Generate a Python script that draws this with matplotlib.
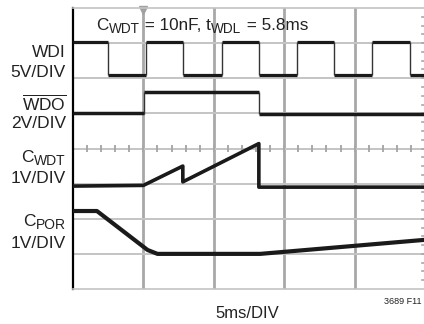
import matplotlib
matplotlib.use("Agg")
import matplotlib.pyplot as plt
import numpy as np
from matplotlib import font_manager
from matplotlib.transforms import IdentityTransform

names = {f.name for f in font_manager.fontManager.ttflist}
main_font = 'Liberation Sans Narrow' if 'Liberation Sans Narrow' in names else 'Liberation Sans'
plt.rcParams['font.family'] = [main_font, 'DejaVu Sans']
plt.rcParams['mathtext.fontset'] = 'custom'
plt.rcParams['mathtext.rm'] = main_font
plt.rcParams['mathtext.it'] = main_font

# ---- data (time in horizontal divisions, level in vertical divisions) ----
wdi_edges = [0.0, 0.50, 1.04, 1.56, 2.12, 2.64, 3.18, 3.71, 4.25, 4.79, 5.0]
wdi_levels = [7.04, 6.10, 7.04, 6.10, 7.04, 6.10, 7.04, 6.10, 7.04, 6.10]

wdo_edges = [0.0, 1.01, 2.64, 5.0]
wdo_levels = [5.00, 5.62, 4.99]

cwdt_t = [0.0, 1.0, 1.56, 1.56, 2.64, 2.64, 5.0]
cwdt_v = [2.93, 2.95, 3.50, 3.05, 4.14, 2.90, 2.90]

cpor_t = [0.0, 0.34, 1.06, 1.20, 2.66, 5.0]
cpor_v = [2.22, 2.22, 1.11, 1.00, 1.00, 1.40]

# row labels: list of (main, subscript) pieces
row_labels = [[("WDI", "")], [("5V/DIV", "")], [(r"$\overline{\mathrm{WDO}}$", "")], [("2V/DIV", "")],
              [("C", "WDT")], [("1V/DIV", "")], [("C", "POR")], [("1V/DIV", "")]]
row_baselines = [57, 77, 110, 128, 162, 183, 226, 248]
title_parts = [("C", "WDT"), (" = 10nF, t", "WDL"), (" = 5.8ms", "")]
xlabel = "5ms/DIV"
fig_id = "3689 F11"

fs = 12.5
W, H = 424, 324
fig = plt.figure(figsize=(W / 100, H / 100), dpi=100)
ax = fig.add_axes([73 / W, 1 - 289 / H, 352 / W, 281 / H])
ax.set_xlim(0, 5)
ax.set_ylim(0, 8)
ax.set_xticks([])
ax.set_yticks([])

ax.spines['right'].set_visible(False)
ax.spines['top'].set_color('#c4c4c4')
ax.spines['top'].set_linewidth(1.2)
ax.spines['bottom'].set_color('#c4c4c4')
ax.spines['bottom'].set_linewidth(1.2)
ax.spines['left'].set_color('black')
ax.spines['left'].set_linewidth(1.6)

for x in range(1, 5):
    ax.axvline(x, color='#a8a8a8', lw=2.0, zorder=1)
for y in range(1, 8):
    ax.axhline(y, color='#c4c4c4', lw=1.4, zorder=1)

for x in np.arange(0.2, 5.0, 0.2):
    ax.plot([x, x], [3.93, 4.07], color='#a8a8a8', lw=1.4, zorder=1)
for y in np.arange(0.25, 8.0, 0.25):
    ax.plot([4.955, 5.0], [y, y], color='#a8a8a8', lw=1.2, zorder=1, clip_on=False)

ax.plot([1.0], [7.93], marker='v', color='#a0a0a0', markersize=6, clip_on=False, zorder=2)

tc = '#1a1a1a'
ax.hlines(wdi_levels, wdi_edges[:-1], wdi_edges[1:], color=tc, lw=2.3, zorder=3)
ax.vlines(wdi_edges[1:-1], min(wdi_levels), max(wdi_levels), color='#333333', lw=1.0, zorder=3)
ax.hlines(wdo_levels, wdo_edges[:-1], wdo_edges[1:], color=tc, lw=2.5, zorder=3)
ax.vlines(wdo_edges[1:-1], min(wdo_levels), max(wdo_levels), color='#333333', lw=1.0, zorder=3)
ax.plot(cwdt_t, cwdt_v, color=tc, lw=2.6, zorder=3, solid_joinstyle='round')
ax.plot(cpor_t, cpor_v, color=tc, lw=3.0, zorder=3, solid_joinstyle='round')

renderer = fig.canvas.get_renderer()
tcol = '#222222'


def chain(x, base_top, parts, size):
    """Draw main+subscript pieces; base_top is baseline in px from top."""
    y = H - base_top
    arts = []
    for main, sub in parts:
        t = fig.text(x, y, main, transform=IdentityTransform(), fontsize=size,
                     va='baseline', ha='left', color=tcol)
        x = t.get_window_extent(renderer).x1
        arts.append(t)
        if sub:
            s = fig.text(x + 0.5, y - 3, sub, transform=IdentityTransform(), fontsize=size * 0.8,
                         va='baseline', ha='left', color=tcol)
            x = s.get_window_extent(renderer).x1
            arts.append(s)
    return arts, x


for parts, yb in zip(row_labels, row_baselines):
    arts, xend = chain(0, yb, parts, fs)
    dx = 66 - xend
    for a in arts:
        px, py = a.get_position()
        a.set_position((px + dx, py))

chain(96, 30, title_parts, 12.3)

fig.text(247 / W, 1 - 313 / H, xlabel, ha='center', va='center', fontsize=12, color=tcol)
fig.text(422 / W, 1 - 302 / H, fig_id, ha='right', va='center', fontsize=6.5, color=tcol)

fig.savefig("out.png", dpi=100, facecolor='white')
